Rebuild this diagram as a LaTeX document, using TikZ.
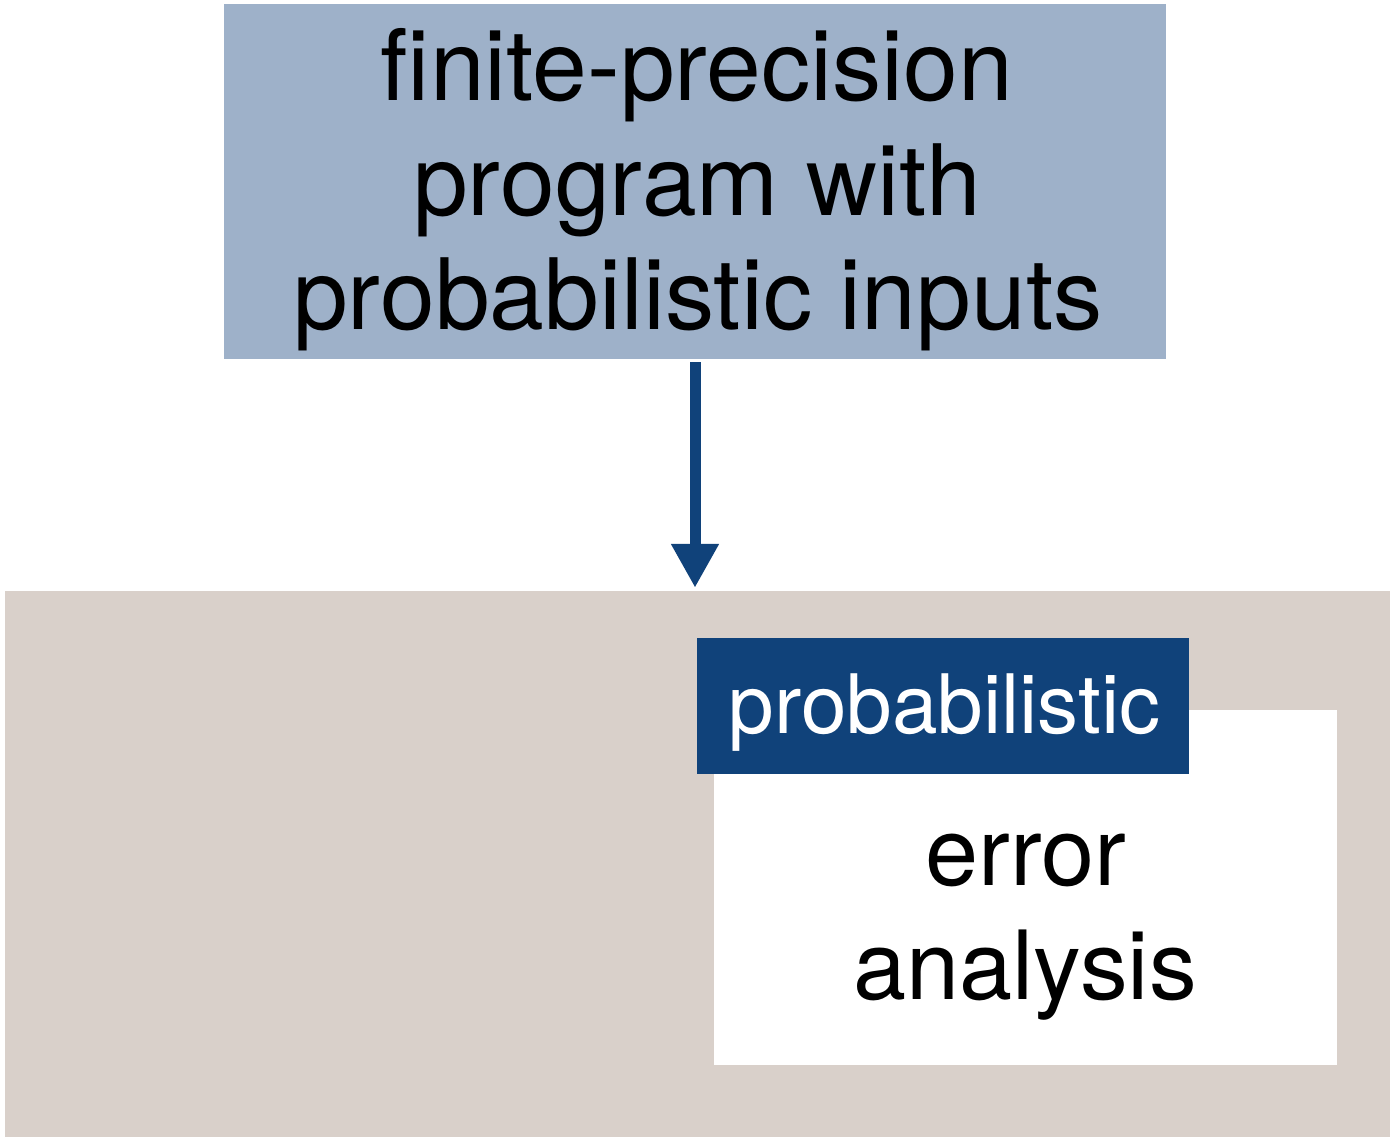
\documentclass[tikz,border=0pt]{standalone}
\usepackage{fontspec}
\setmainfont{TeX Gyre Heros}
\usetikzlibrary{arrows.meta}
\definecolor{topfill}{HTML}{9EB1C9}
\definecolor{darkblue}{HTML}{10427A}
\definecolor{beige}{HTML}{D9D0CA}
\tikzset{
  box/.style={rectangle, inner sep=0pt, draw=none},
  bigtext/.style={anchor=base, inner sep=0pt, font=\fontsize{98.5}{118}\selectfont},
  midtext/.style={anchor=base, inner sep=0pt, font=\fontsize{95.5}{114}\selectfont},
  labeltext/.style={anchor=base, inner sep=0pt, text=white, font=\fontsize{82}{98}\selectfont},
  flowarrow/.style={draw=darkblue, line width=11pt,
    -{Triangle[width=45pt,length=44pt,fill=darkblue]},
    shorten <=3pt, shorten >=3pt}
}
\begin{document}
\begin{tikzpicture}[x=1pt,y=-1pt]
\useasboundingbox (0,0) rectangle (1393,1138);
% top box
\node[box, fill=topfill, minimum width=942pt, minimum height=355pt] (top) at (695,181.5) {};
\node[bigtext] (t1) at (697,100) {finite-precision};
\node[bigtext] (t2) at (697,215) {program with};
\node[bigtext] (t3) at (698,329) {probabilistic inputs};
% bottom area
\node[box, fill=beige, minimum width=1385pt, minimum height=546pt] (bottom) at (697.5,864) {};
\node[box, fill=white, minimum width=623pt, minimum height=355pt] (inner) at (1025.5,887.5) {};
\node[box, fill=darkblue, minimum width=492pt, minimum height=136pt] (label) at (943,706) {};
\node[labeltext] (lt) at (944.5,733) {probabilistic};
\node[midtext] (e1) at (1026,885) {error};
\node[midtext] (e2) at (1025,999) {analysis};
% arrow
\draw[flowarrow] (top.south) -- (top.south |- bottom.north);
\end{tikzpicture}
\end{document}
